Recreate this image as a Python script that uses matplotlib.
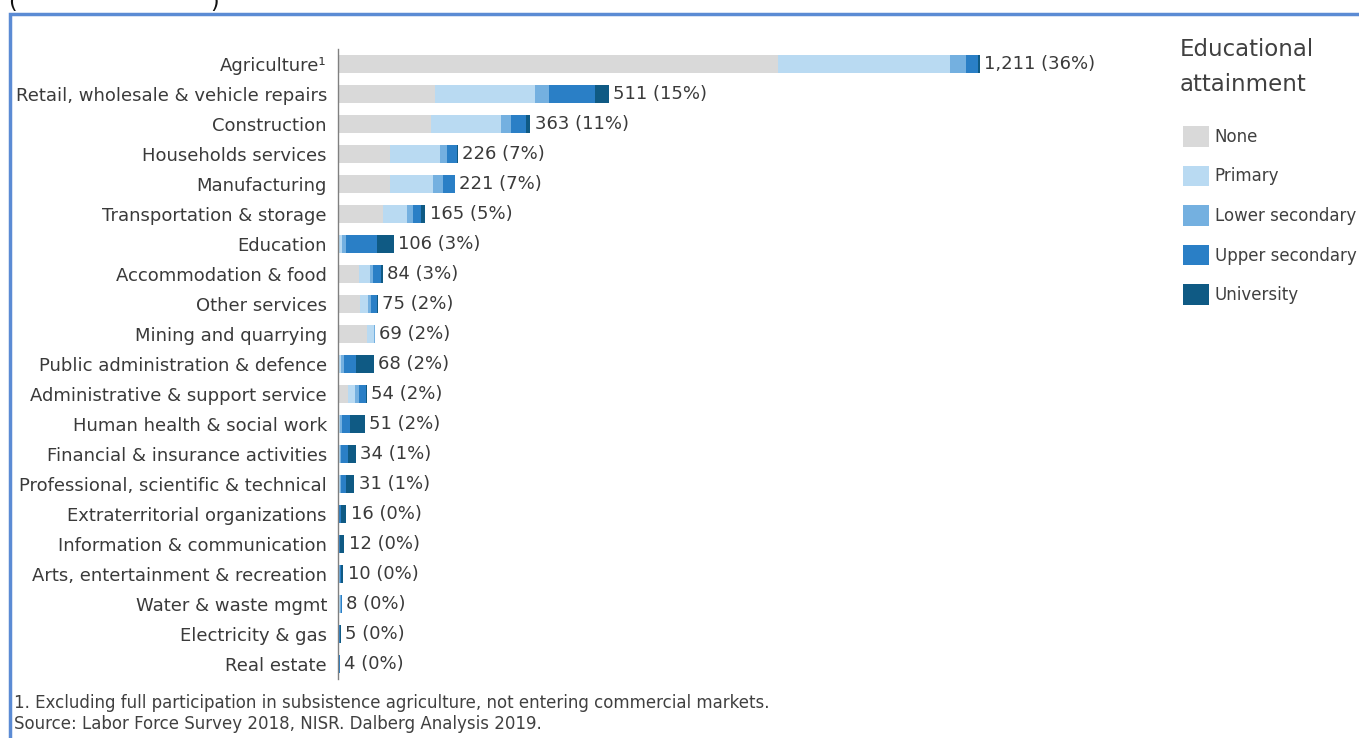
import matplotlib.pyplot as plt
from matplotlib.patches import Rectangle, Patch

plt.rcParams['font.family'] = ['Liberation Sans Narrow', 'DejaVu Sans']

# sectors, top to bottom
sectors = [
    "Agriculture\u00b9", "Retail, wholesale & vehicle repairs", "Construction",
    "Households services", "Manufacturing", "Transportation & storage",
    "Education", "Accommodation & food", "Other services",
    "Mining and quarrying", "Public administration & defence",
    "Administrative & support service", "Human health & social work",
    "Financial & insurance activities", "Professional, scientific & technical",
    "Extraterritorial organizations", "Information & communication",
    "Arts, entertainment & recreation", "Water & waste mgmt",
    "Electricity & gas", "Real estate",
]
totals = [1211, 511, 363, 226, 221, 165, 106, 84, 75, 69, 68, 54, 51, 34, 31, 16, 12, 10, 8, 5, 4]
shares = [36, 15, 11, 7, 7, 5, 3, 3, 2, 2, 2, 2, 2, 1, 1, 0, 0, 0, 0, 0, 0]

# split by educational attainment
none_ = [830, 183, 175, 98, 98, 85, 2, 40, 42, 55, 2, 18, 1, 1, 1, 0, 0, 1, 2, 0, 1]
primary = [325, 188, 132, 94, 81, 46, 5, 20, 15, 12, 4, 15, 3, 2, 2, 1, 0, 1, 2, 1, 1]
lower_sec = [30, 28, 19, 13, 19, 11, 8, 6, 6, 2, 6, 7, 4, 3, 2, 1, 1, 1, 1, 1, 0]
upper_sec = [22, 85, 28, 19, 23, 14, 58, 16, 10, 0, 22, 12, 15, 12, 10, 4, 3, 3, 2, 1, 1]
university = [4, 27, 9, 2, 0, 9, 33, 2, 2, 0, 34, 2, 28, 16, 16, 10, 8, 4, 1, 2, 1]

levels = ["None", "Primary", "Lower secondary", "Upper secondary", "University"]
colors = ["#d9d9d9", "#b9daf2", "#74b0e0", "#2a7fc6", "#0f5a84"]

W, H = 1359, 738
fig = plt.figure(figsize=(W / 100, H / 100), dpi=100)

# axes placed in pixel terms
x0, x1 = 338, 1150
ytop, ybot = 49, 679
ax = fig.add_axes([x0 / W, 1 - ybot / H, (x1 - x0) / W, (ybot - ytop) / H])

n = len(sectors)
ypos = list(range(n))
left = [0] * n
for vals, col in zip([none_, primary, lower_sec, upper_sec, university], colors):
    ax.barh(ypos, vals, left=left, height=0.57, color=col, edgecolor='none')
    left = [l + v for l, v in zip(left, vals)]

for y, t, s in zip(ypos, totals, shares):
    ax.text(t + 8, y, f"{t:,} ({s}%)", va='center', ha='left', fontsize=13, color='#3a3a3a')

ax.set_xlim(0, (x1 - x0) / 0.53)
ax.set_ylim(n - 0.5, -0.5)
ax.set_yticks(ypos)
ax.set_yticklabels(sectors, fontsize=13, color='#3a3a3a')
ax.tick_params(axis='y', length=0, pad=8)
ax.set_xticks([])
for side in ['top', 'right', 'bottom']:
    ax.spines[side].set_visible(False)
ax.spines['left'].set_color('#808080')
ax.spines['left'].set_linewidth(1)

# legend
fig.text(1180 / W, 1 - 67 / H, "Educational\nattainment", fontsize=16.5, color='#404040',
         va='center', ha='left', linespacing=1.65)
handles = [Patch(facecolor=c, edgecolor='none') for c in colors]
fig.legend(handles, levels, loc='upper left', bbox_to_anchor=(1173 / W, 1 - 116 / H),
           frameon=False, fontsize=12, labelcolor='#404040', handlelength=1.55,
           handleheight=1.55, handletextpad=0.35, labelspacing=1.12, borderaxespad=0.2)

# footnotes
fig.text(14 / W, 1 - 703 / H,
         "1. Excluding full participation in subsistence agriculture, not entering commercial markets.",
         fontsize=12, color='#404040', va='center', ha='left')
fig.text(14 / W, 1 - 724 / H, "Source: Labor Force Survey 2018, NISR. Dalberg Analysis 2019.",
         fontsize=12, color='#404040', va='center', ha='left')

# frame of the screenshot
fig.patches.append(Rectangle((10 / W, -0.1), 1.2, 1 - 14 / H + 0.1, transform=fig.transFigure,
                             fill=False, edgecolor='#5b8bd4', linewidth=2.5))
fig.text(8 / W, 1 - 2 / H, "(", fontsize=16, va='center', ha='left', color='#111111')
fig.text(210 / W, 1 - 2 / H, ")", fontsize=16, va='center', ha='left', color='#111111')

fig.savefig("out.png", dpi=100)
